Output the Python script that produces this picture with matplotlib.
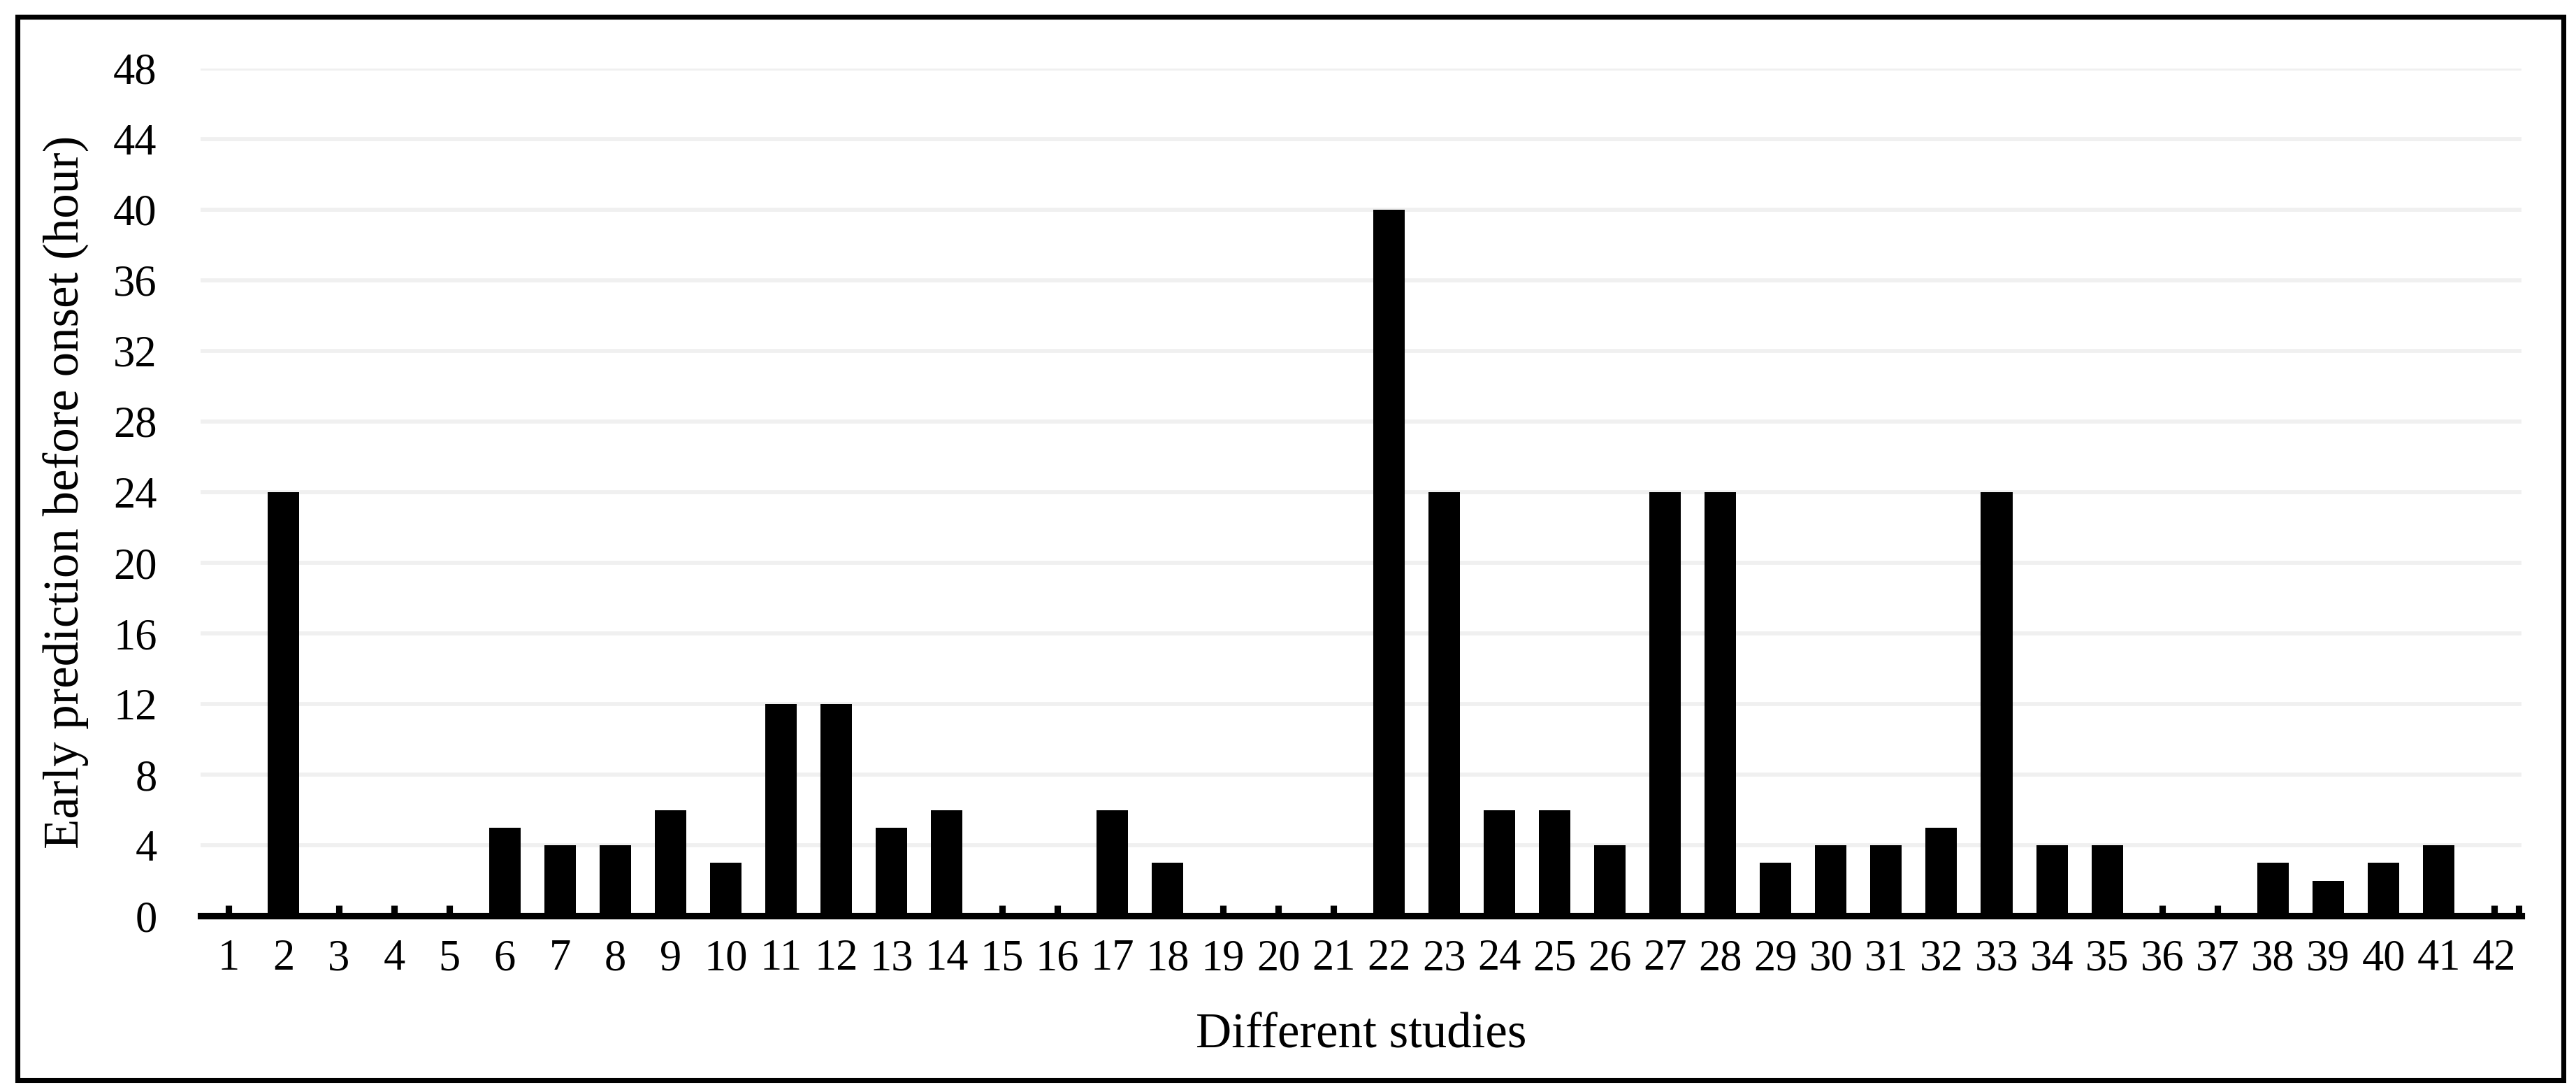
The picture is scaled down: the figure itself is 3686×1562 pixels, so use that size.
import matplotlib
matplotlib.use("Agg")
import matplotlib.pyplot as plt
from matplotlib.patches import Rectangle
from matplotlib.ticker import FixedLocator

plt.rcParams['font.family'] = ['Liberation Serif', 'DejaVu Serif']

studies = list(range(1, 43))
hours = [0, 24, 0, 0, 0, 5, 4, 4, 6, 3,
         12, 12, 5, 6, 0, 0, 6, 3, 0, 0,
         0, 40, 24, 6, 6, 4, 24, 24, 3, 4,
         4, 5, 24, 4, 4, 0, 0, 3, 2, 3,
         4, 0]
y_ticks = list(range(0, 49, 4))

fig = plt.figure(figsize=(3686 / 300, 1562 / 300), dpi=300)
ax = fig.add_axes([0.0779, 0.1613, 0.9010, 0.7760])

ax.bar(studies, hours, width=0.57, color="black", zorder=3)

ax.set_xlim(0.5, 42.5)
ax.set_ylim(0, 48)
ax.set_xticks(studies)
ax.set_xticklabels([str(s) for s in studies])
ax.xaxis.set_minor_locator(FixedLocator([42.45]))
ax.set_yticks(y_ticks)

ax.yaxis.grid(True, color="#f0f0f0", linewidth=1.4, zorder=0)
ax.set_axisbelow(True)

for side in ["left", "right", "top"]:
    ax.spines[side].set_visible(False)
ax.spines["bottom"].set_linewidth(2.2)
ax.spines["bottom"].set_zorder(4)

ax.tick_params(axis="x", which="both", direction="in", length=3.6, width=2.2,
               pad=8, labelsize=15)
ax.tick_params(axis="y", length=0, pad=15, labelsize=15)

ax.set_xlabel("Different studies", fontsize=17)
ax.set_ylabel("Early prediction before onset (hour)", fontsize=17)
ax.xaxis.set_label_coords(0.5, -0.141)
ax.xaxis.label.set_va("center")
ax.yaxis.set_label_coords(-0.058, 0.5)
ax.yaxis.label.set_va("center")

# frame round the whole picture
fig.patches.append(Rectangle((0.0068, 0.0109), 0.9882, 0.9737, transform=fig.transFigure,
                             fill=False, edgecolor="black", linewidth=1.7))

fig.savefig("out.png", dpi=300, facecolor="white")
